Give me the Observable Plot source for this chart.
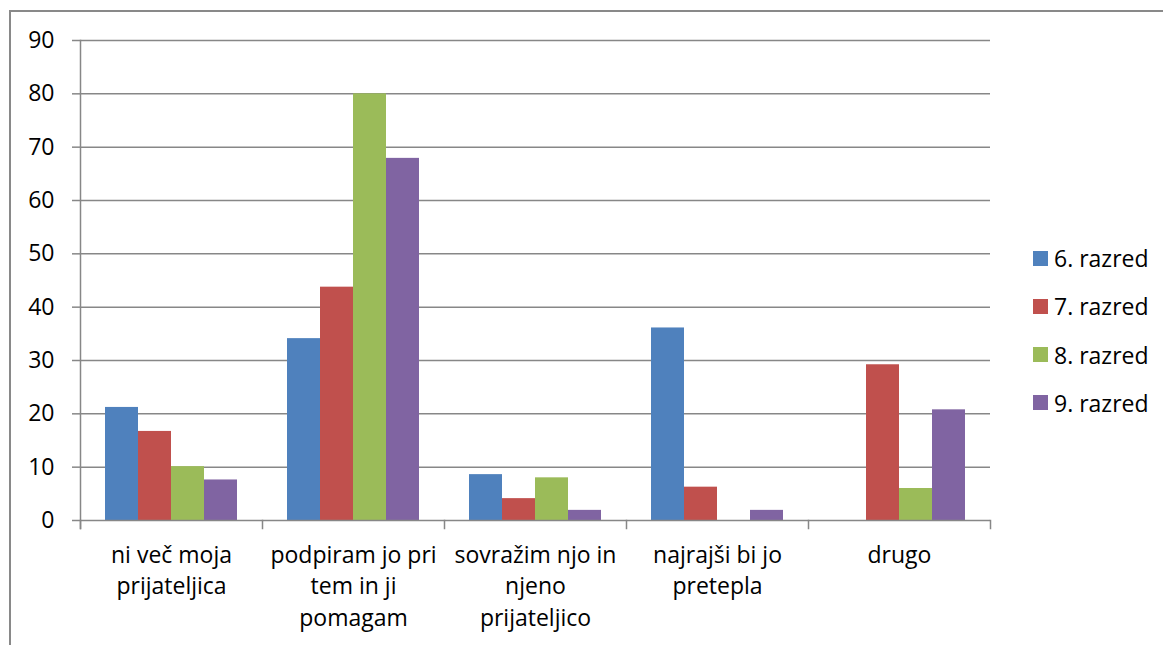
<!DOCTYPE html>
<html>
<head>
<meta charset="utf-8">
<script src="https://cdn.jsdelivr.net/npm/d3@7"></script>
<script src="https://cdn.jsdelivr.net/npm/@observablehq/plot@0.6"></script>
<style>
  body { margin: 0; background: #fff; font-family: "Open Sans", sans-serif; }
  #wrap { position: relative; width: 1163px; height: 645px; overflow: hidden; }
  #chart { position: absolute; left: 0; top: 0; }
  #border { position: absolute; left: 9px; top: 10px; width: 1300px; height: 800px; border: 2px solid #898989; pointer-events: none; }
  #legend { position: absolute; left: 1033px; top: 0; }
  .item { position: absolute; left: 0; height: 32px; line-height: 32px; display: flex; align-items: center; white-space: nowrap; font-size: 23px; color: #000; }
  .sw { width: 15px; height: 15px; margin-right: 6px; flex: none; }
</style>
</head>
<body>
<div id="wrap">
  <div id="chart"></div>
  <div id="border"></div>
  <div id="legend"></div>
</div>
<script>
const categories = ["ni več moja prijateljica", "podpiram jo pri tem in ji pomagam", "sovražim njo in njeno prijateljico", "najrajši bi jo pretepla", "drugo"];
const categoryLabels = ["ni več moja\nprijateljica", "podpiram jo pri\ntem in ji\npomagam", "sovražim njo in\nnjeno\nprijateljico", "najrajši bi jo\npretepla", "drugo"];
const series = ["6. razred", "7. razred", "8. razred", "9. razred"];
const seriesColors = ["#4F81BD", "#C0504D", "#9BBB59", "#8064A2"];
const razred6 = [21.2, 34.1, 8.6, 36.1, 0];
const razred7 = [16.7, 43.75, 4.1, 6.25, 29.2];
const razred8 = [10.1, 80, 8.0, 0, 6.0];
const razred9 = [7.6, 67.9, 1.9, 1.9, 20.75];
const yTicks = [0, 10, 20, 30, 40, 50, 60, 70, 80, 90];

const seriesValues = [razred6, razred7, razred8, razred9];
const rows = categories.flatMap((c, i) => series.map((s, j) => ({category: c, series: s, value: seriesValues[j][i]})));

const W = 1163, H = 645, mt = 40, mb = 125, ml = 79, mr = 173;
const plotH = H - mt - mb;
const grid = "#878787";

const chart = Plot.plot({
  width: W, height: H,
  marginTop: mt, marginBottom: mb, marginLeft: ml, marginRight: mr,
  style: {fontFamily: "Open Sans", fontSize: "23px", color: "#000", background: "transparent"},
  fx: {domain: categories, padding: 0, axis: null, label: null},
  x: {domain: series, paddingInner: 0, paddingOuter: 0.75, axis: null},
  y: {domain: [0, 90], axis: null},
  color: {domain: series, range: seriesColors},
  marks: [
    Plot.ruleY(yTicks.filter(t => t > 0), {stroke: grid, strokeWidth: 1.5}),
    Plot.barY(rows, {fx: "category", x: "series", y: "value", fill: "series"}),
    Plot.ruleY([0], {stroke: grid, strokeWidth: 1.5}),
    Plot.frame({anchor: "left", facetAnchor: "left", stroke: grid, strokeWidth: 1.5, insetBottom: -8}),
    Plot.frame({anchor: "left", stroke: grid, strokeWidth: 1.5, insetTop: plotH, insetBottom: -8}),
    Plot.frame({anchor: "right", facetAnchor: "right", stroke: grid, strokeWidth: 1.5, insetTop: plotH, insetBottom: -8}),
    Plot.axisY({ticks: yTicks, tickSize: 8, tickPadding: 18, stroke: grid, strokeWidth: 1.5, fontSize: 23, label: null, facetAnchor: "left"}),
    Plot.text(categoryLabels, {fx: (d, i) => categories[i], text: d => d, frameAnchor: "bottom", lineAnchor: "top", dy: 20, lineHeight: 1.37, fontSize: 23, fill: "#000"})
  ]
});
document.getElementById("chart").appendChild(chart);

const legend = document.getElementById("legend");
const legendTop = 258, legendStep = 48.3;
series.forEach((s, i) => {
  const item = document.createElement("div");
  item.className = "item";
  item.style.top = (legendTop + i * legendStep - 16) + "px";
  const sw = document.createElement("span");
  sw.className = "sw";
  sw.style.background = seriesColors[i];
  const tx = document.createElement("span");
  tx.textContent = s;
  item.appendChild(sw);
  item.appendChild(tx);
  legend.appendChild(item);
});
</script>
</body>
</html>
